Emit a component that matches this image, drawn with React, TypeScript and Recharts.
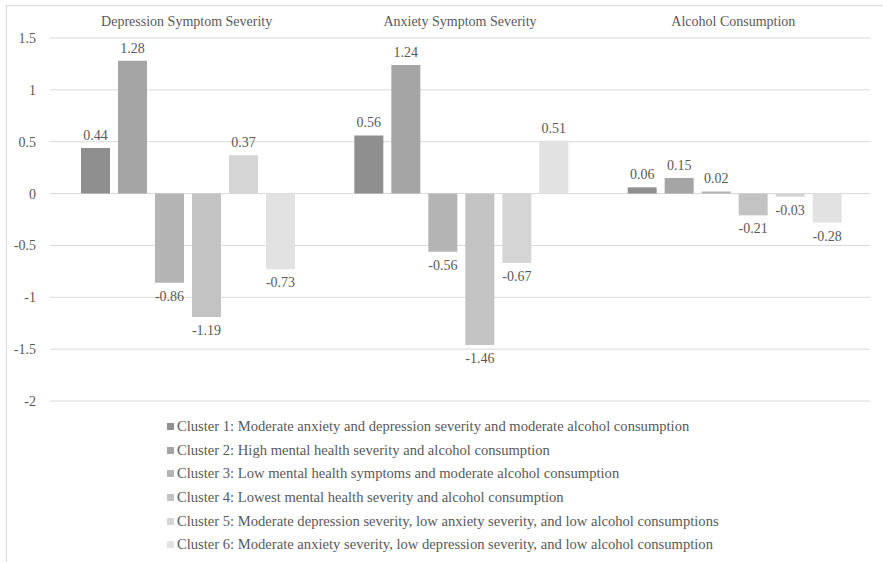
import { Bar, BarChart, CartesianGrid, LabelList, Legend, XAxis, YAxis } from "recharts"

const categories = [
  "Depression Symptom Severity",
  "Anxiety Symptom Severity",
  "Alcohol Consumption",
]

const clusterNames = [
  "Cluster 1: Moderate anxiety and depression severity and moderate alcohol consumption",
  "Cluster 2: High mental health severity and alcohol consumption",
  "Cluster 3: Low mental health symptoms and moderate alcohol consumption",
  "Cluster 4: Lowest mental health severity and alcohol consumption",
  "Cluster 5: Moderate depression severity, low anxiety severity, and low alcohol consumptions",
  "Cluster 6: Moderate anxiety severity, low depression severity, and low alcohol consumption",
]

const cluster1 = [0.44, 0.56, 0.06]
const cluster2 = [1.28, 1.24, 0.15]
const cluster3 = [-0.86, -0.56, 0.02]
const cluster4 = [-1.19, -1.46, -0.21]
const cluster5 = [0.37, -0.67, -0.03]
const cluster6 = [-0.73, 0.51, -0.28]

const yTicks = [-2, -1.5, -1, -0.5, 0, 0.5, 1, 1.5]

const clusters = [cluster1, cluster2, cluster3, cluster4, cluster5, cluster6]
const colors = ["#8f8f8f", "#a5a5a5", "#b4b4b4", "#c3c3c3", "#d5d5d5", "#e2e2e2"]

const data = categories.map((name, i) => {
  const row: Record<string, string | number> = { name }
  clusters.forEach((values, c) => {
    row[`c${c + 1}`] = values[i]
  })
  return row
})

const font = "'Liberation Serif', 'Times New Roman', serif"
const textColor = "#595959"

const LegendList = () => (
  <div style={{ fontFamily: font, fontSize: 14.6, color: textColor }}>
    {clusterNames.map((label, i) => (
      <div
        key={label}
        style={{ display: "flex", alignItems: "center", height: 23.6, whiteSpace: "nowrap" }}
      >
        <span
          style={{
            display: "inline-block",
            width: 7,
            height: 7,
            background: colors[i],
            marginRight: 3,
          }}
        />
        {label}
      </div>
    ))}
  </div>
)

export default function App() {
  return (
    <div
      style={{
        position: "absolute",
        left: 0,
        top: 0,
        width: 883,
        height: 562,
        overflow: "hidden",
        background: "#fff",
      }}
    >
      <div
        style={{
          position: "absolute",
          left: 6,
          top: 5,
          width: 900,
          height: 600,
          border: "1px solid #d9d9d9",
        }}
      />
      <div style={{ position: "absolute", left: 0, top: 0 }}>
        <BarChart
          width={883}
          height={562}
          data={data}
          margin={{ top: 8, right: 13, bottom: 161, left: 8 }}
          barCategoryGap={31}
          barGap={8}
        >
          <CartesianGrid vertical={false} stroke="#d9d9d9" />
          <XAxis
            dataKey="name"
            orientation="top"
            height={30}
            axisLine={false}
            tickLine={false}
            tickSize={0}
            tickMargin={12}
            interval={0}
            tick={{ fill: textColor, fontSize: 14, fontFamily: font }}
          />
          <YAxis
            domain={[-2, 1.5]}
            ticks={yTicks}
            width={42}
            axisLine={false}
            tickLine={false}
            tickSize={0}
            tickMargin={14}
            tick={{ fill: textColor, fontSize: 14, fontFamily: font }}
          />
          <Legend
            layout="vertical"
            align="center"
            verticalAlign="middle"
            wrapperStyle={{ top: 415, left: 167, width: "auto" }}
            content={() => <LegendList />}
          />
          {clusters.map((_, c) => (
            <Bar
              key={c}
              dataKey={`c${c + 1}`}
              name={clusterNames[c]}
              fill={colors[c]}
              isAnimationActive={false}
            >
              <LabelList
                dataKey={`c${c + 1}`}
                position="top"
                offset={8}
                fill={textColor}
                fontSize={14}
                fontFamily={font}
                formatter={(v: number) => v.toFixed(2)}
              />
            </Bar>
          ))}
        </BarChart>
      </div>
    </div>
  )
}
